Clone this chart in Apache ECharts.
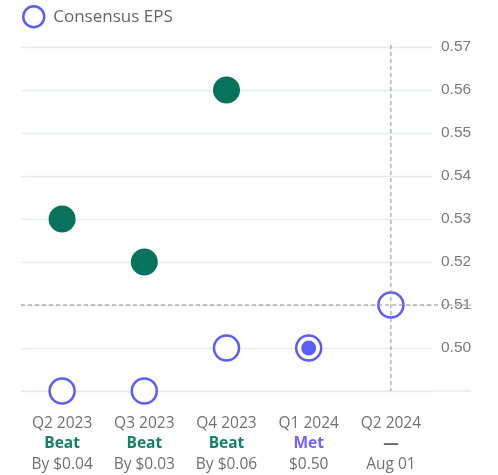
<!DOCTYPE html>
<html>
<head>
<meta charset="utf-8">
<script src="https://cdn.jsdelivr.net/npm/echarts@6/dist/echarts.min.js"></script>
<style>
  html, body { margin: 0; padding: 0; background: #ffffff; }
  #chart { width: 498px; height: 475px; }
</style>
</head>
<body>
<div id="chart"></div>
<script>
// Quarterly EPS: reported vs. consensus
const quarters     = ['Q2 2023', 'Q3 2023', 'Q4 2023', 'Q1 2024', 'Q2 2024'];
const actualEps    = [0.53, 0.52, 0.56, 0.50, null];
const consensusEps = [0.49, 0.49, 0.50, 0.50, 0.51];
const outcomes     = ['Beat', 'Beat', 'Beat', 'Met', '—'];
const details      = ['By $0.04', 'By $0.03', 'By $0.06', '$0.50', 'Aug 01'];
const yMin = 0.49, yMax = 0.57, yStep = 0.01;

const GREEN = '#08735c';
const BLUE = '#5b5ef6';
const GRID_LINE = '#e8eaee';
const GRID = { left: 21, right: 66, top: 47, bottom: 84 };
const LINE_END = 471;
const LABEL_FONT = '"Open Sans", "Noto Sans", sans-serif';

const outcomeStyle = { Beat: 'beat', Met: 'met', '—': 'dash' };

const chart = echarts.init(document.getElementById('chart'), null, { renderer: 'canvas' });

const line = (color, bold) => ({
  color, fontSize: 15.5, lineHeight: 20.5, fontFamily: LABEL_FONT,
  fontWeight: bold ? 'bold' : 'normal'
});

chart.setOption({
  animation: false,
  backgroundColor: '#ffffff',
  textStyle: { fontFamily: LABEL_FONT },
  legend: {
    data: ['Consensus EPS'],
    left: 17,
    top: 0,
    itemWidth: 21,
    itemHeight: 21,
    itemGap: 9,
    icon: 'circle',
    itemStyle: { color: '#ffffff', borderColor: BLUE, borderWidth: 2.5 },
    textStyle: { color: '#666666', fontSize: 17, fontFamily: LABEL_FONT, padding: [0, 0, 0, 4] }
  },
  grid: GRID,
  xAxis: {
    type: 'category',
    data: quarters,
    boundaryGap: true,
    axisLine: { show: false },
    axisTick: { show: false },
    splitLine: { show: false },
    axisLabel: {
      margin: 22,
      interval: 0,
      formatter: (v, i) => `{q|${v}}\n{${outcomeStyle[outcomes[i]]}|${outcomes[i]}}\n{d|${details[i]}}`,
      rich: {
        q:    line('#707070', false),
        beat: line('#14806a', true),
        met:  line('#7062ff', true),
        dash: line('#666666', true),
        d:    line('#707070', false)
      }
    }
  },
  yAxis: {
    type: 'value',
    position: 'right',
    min: yMin,
    max: yMax,
    interval: yStep,
    axisLine: { show: false },
    axisTick: { show: false },
    splitLine: { lineStyle: { color: GRID_LINE, width: 1.3 } },
    axisLabel: {
      margin: 9,
      color: '#7a7a7a',
      fontSize: 15.5,
      fontFamily: '"Liberation Sans", Arial, sans-serif',
      showMinLabel: false,
      formatter: v => v.toFixed(2)
    }
  },
  series: [
    {
      name: 'Consensus EPS',
      type: 'scatter',
      data: consensusEps,
      symbol: 'circle',
      symbolSize: 25,
      clip: false,
      z: 2,
      itemStyle: { color: '#ffffff', borderColor: BLUE, borderWidth: 2.5, opacity: 1 }
    },
    {
      name: 'Reported EPS',
      type: 'scatter',
      data: actualEps.map((v, i) => ({
        value: v,
        symbolSize: outcomes[i] === 'Met' ? 15 : 27,
        itemStyle: { color: outcomes[i] === 'Met' ? BLUE : GREEN }
      })),
      symbol: 'circle',
      clip: false,
      z: 3,
      itemStyle: { opacity: 1 }
    }
  ]
});

// Baseline, and the dashed crosshair marking the upcoming quarter's estimate
const last = quarters.length - 1;
const yBase = chart.convertToPixel({ yAxisIndex: 0 }, yMin);
const yNext = chart.convertToPixel({ yAxisIndex: 0 }, consensusEps[last]);
const xNext = chart.convertToPixel({ xAxisIndex: 0 }, quarters[last]);
const dashed = { stroke: '#8f8f8f', lineWidth: 1, lineDash: [4, 3] };

chart.setOption({
  graphic: [
    { type: 'line', z: 1, silent: true,
      shape: { x1: GRID.left, y1: yBase, x2: LINE_END, y2: yBase },
      style: { stroke: GRID_LINE, lineWidth: 1.5 } },
    { type: 'line', z: 10, silent: true,
      shape: { x1: GRID.left, y1: yNext, x2: LINE_END, y2: yNext },
      style: dashed },
    { type: 'line', z: 10, silent: true,
      shape: { x1: xNext, y1: GRID.top - 2, x2: xNext, y2: yBase },
      style: dashed }
  ]
});
</script>
</body>
</html>
